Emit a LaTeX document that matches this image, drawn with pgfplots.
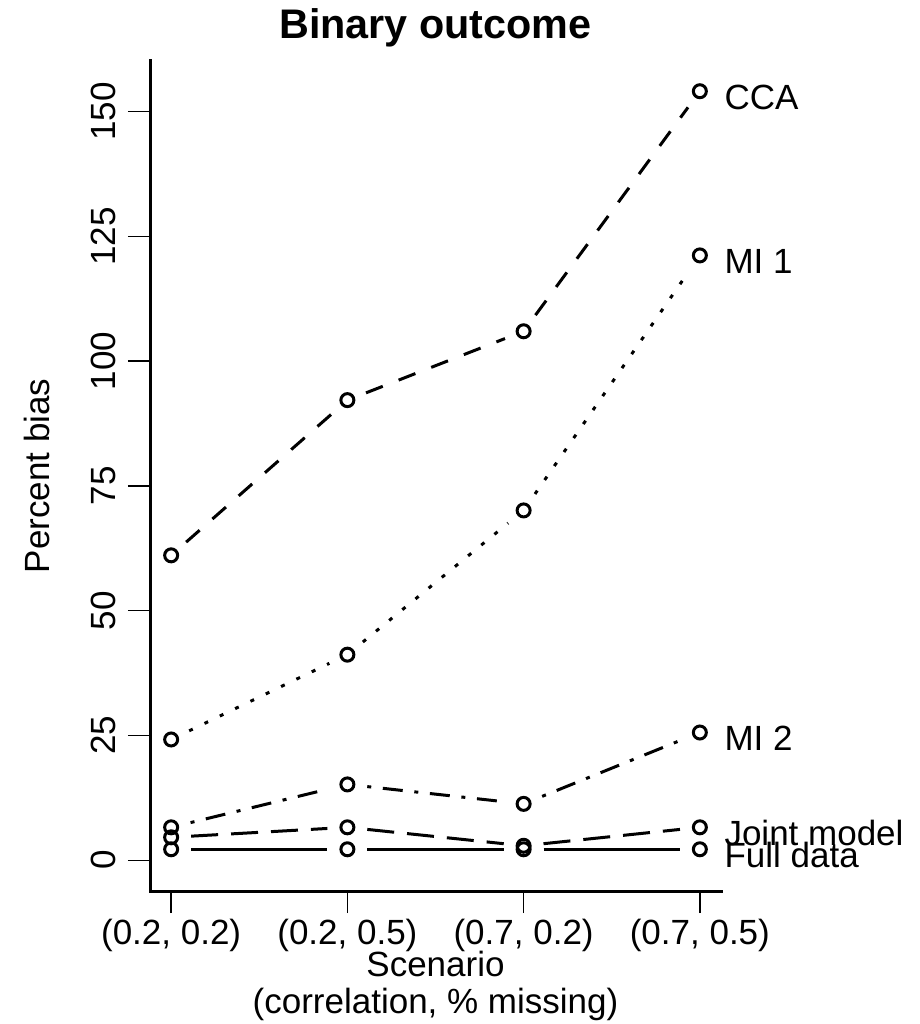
\documentclass[border=0pt]{standalone}
\usepackage{fontspec}
\setmainfont{Liberation Sans}
\usepackage{pgfplots}
\pgfplotsset{compat=1.18}

\newcommand\fs{\fontsize{10.5}{12.6}\selectfont}
% one line segment between two markers, shortened to leave the gaps of R's type="b"
\newcommand\seg[3]{\addplot[#1, shorten <=6pt, shorten >=6pt, forget plot] coordinates {#2 #3};}

\tikzset{
  cca/.style={dash pattern=on 5.4pt off 5.1pt},
  mione/.style={dash pattern=on 1.2pt off 3.9pt},
  mitwo/.style={dash pattern=on 1.2pt off 3.5pt on 6pt off 3.5pt},
  joint/.style={dash pattern=on 8.1pt off 3.9pt},
  full/.style={solid},
  lab/.style={anchor=base west, inner sep=0pt, xshift=7.2pt, yshift=-5.4pt},
}

\begin{document}
\fs
\begin{tikzpicture}
\path[use as bounding box] (-45pt,-39.9pt) rectangle (230.7pt,267.3pt);
\begin{axis}[
  at={(0,0)}, anchor=south west,
  scale only axis, width=171.3pt, height=249pt,
  xmin=0.88, xmax=4.12, ymin=-6.16, ymax=160.16,
  axis x line=bottom, axis y line=left,
  axis line style={-, line width=0.9pt, line cap=rect},
  tick align=outside, major tick length=6.6pt,
  tick style={black, line width=0.45pt},
  xtick={1,2,3,4},
  xticklabels={{(0.2, 0.2)},{(0.2, 0.5)},{(0.7, 0.2)},{(0.7, 0.5)}},
  ytick={0,25,...,150},
  /pgf/number format/assume math mode=true,
  yticklabel style={xshift=-3.6pt, rotate=90, anchor=base, inner sep=0pt},
  xticklabel style={yshift=-9.3pt, anchor=base, inner sep=0pt},
  clip=false,
  every axis plot/.append style={black, line width=0.9pt},
]
% markers
\addplot[only marks, mark=o, mark size=1.95pt] coordinates {(1,61.1) (2,92.2) (3,106.0) (4,154.1)};
\addplot[only marks, mark=o, mark size=1.95pt] coordinates {(1,24.2) (2,41.2) (3,70.1) (4,121.2)};
\addplot[only marks, mark=o, mark size=1.95pt] coordinates {(1,6.6) (2,15.2) (3,11.3) (4,25.6)};
\addplot[only marks, mark=o, mark size=1.95pt] coordinates {(1,4.6) (2,6.6) (3,2.9) (4,6.6)};
\addplot[only marks, mark=o, mark size=1.95pt] coordinates {(1,2.2) (2,2.2) (3,2.2) (4,2.2)};

% CCA
\seg{cca}{(1,61.1)}{(2,92.2)}
\seg{cca}{(2,92.2)}{(3,106.0)}
\seg{cca}{(3,106.0)}{(4,154.1)}
% MI 1
\seg{mione}{(1,24.2)}{(2,41.2)}
\seg{mione}{(2,41.2)}{(3,70.1)}
\seg{mione}{(3,70.1)}{(4,121.2)}
% MI 2
\seg{mitwo}{(1,6.6)}{(2,15.2)}
\seg{mitwo}{(2,15.2)}{(3,11.3)}
\seg{mitwo}{(3,11.3)}{(4,25.6)}
% Joint model
\seg{joint}{(1,4.6)}{(2,6.6)}
\seg{joint}{(2,6.6)}{(3,2.9)}
\seg{joint}{(3,2.9)}{(4,6.6)}
% Full data
\seg{full}{(1,2.2)}{(2,2.2)}
\seg{full}{(2,2.2)}{(3,2.2)}
\seg{full}{(3,2.2)}{(4,2.2)}

\node[lab] at (axis cs:4,154.1) {CCA};
\node[lab] at (axis cs:4,121.2) {MI 1};
\node[lab] at (axis cs:4,25.6) {MI 2};
\node[lab] at (axis cs:4,6.6) {Joint model};
\node[lab] at (axis cs:4,2.2) {Full data};

\node[anchor=base, inner sep=0pt, yshift=6.8pt, font=\bfseries\fontsize{12.4}{15}\selectfont] at (rel axis cs:0.5,1) {Binary outcome};
\node[xshift=-30pt, rotate=90, anchor=base, inner sep=0pt] at (rel axis cs:0,0.5) {Percent bias};
\node[anchor=base, inner sep=0pt, yshift=-25.5pt] at (rel axis cs:0.5,0) {Scenario};
\node[anchor=base, inner sep=0pt, yshift=-36.6pt] at (rel axis cs:0.5,0) {(correlation, \% missing)};
\end{axis}
\end{tikzpicture}
\end{document}
